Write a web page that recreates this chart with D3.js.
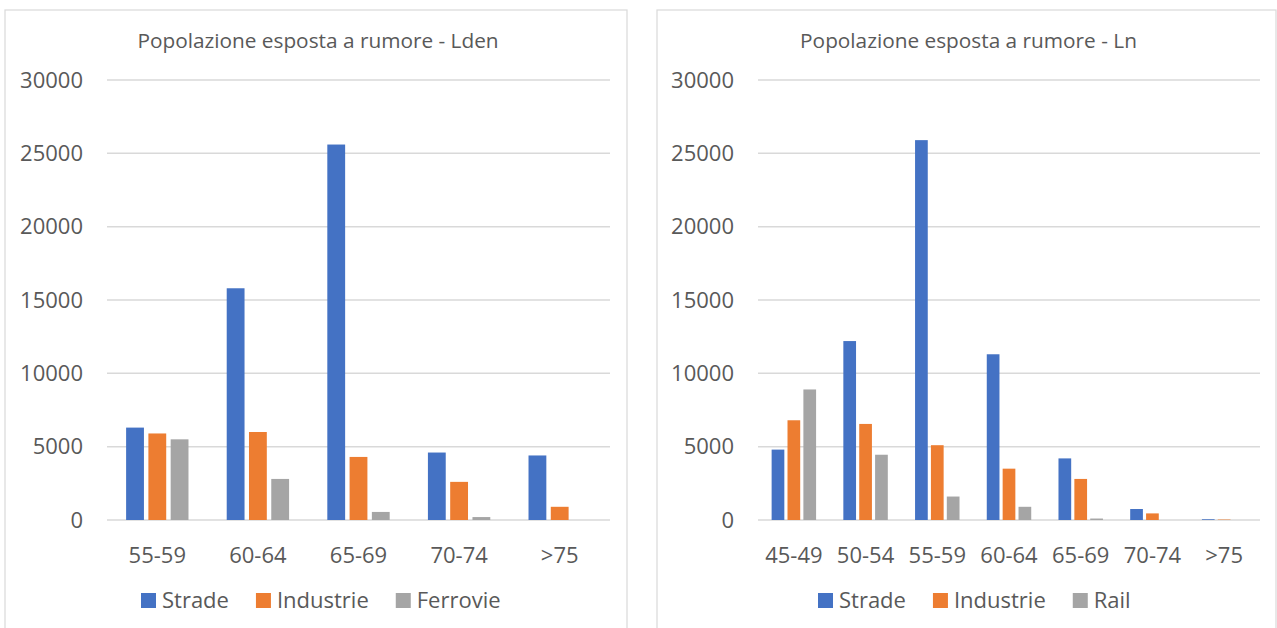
<!DOCTYPE html>
<html><head><meta charset="utf-8">
<script src="https://cdn.jsdelivr.net/npm/d3@7"></script>
<style>
html,body{margin:0;padding:0;background:#fff;}
svg{display:block;font-family:"Open Sans",sans-serif;}
</style></head>
<body>
<svg id="c" width="1277" height="628"></svg>
<script>
// ---- data ----
const ldenCategories = ["55-59","60-64","65-69","70-74",">75"];
const ldenSeries = ["Strade","Industrie","Ferrovie"];
const ldenStrade    = [6300, 15800, 25600, 4600, 4400];
const ldenIndustrie = [5900, 6000, 4300, 2600, 900];
const ldenFerrovie  = [5500, 2800, 550, 200, 0];

const lnCategories = ["45-49","50-54","55-59","60-64","65-69","70-74",">75"];
const lnSeries = ["Strade","Industrie","Rail"];
const lnStrade    = [4800, 12200, 25900, 11300, 4200, 750, 50];
const lnIndustrie = [6800, 6550, 5100, 3500, 2800, 450, 30];
const lnRail      = [8900, 4450, 1600, 900, 100, 0, 0];

const yTicks = [0, 5000, 10000, 15000, 20000, 25000, 30000];
const colors = ["#4472C4", "#ED7D31", "#A5A5A5"];

const svg = d3.select("#c");

function panel(cfg) {
  const g = svg.append("g");
  g.append("rect").attr("x", cfg.px).attr("y", 10).attr("width", cfg.pw).attr("height", 660)
    .attr("fill", "#fff").attr("stroke", "#D9D9D9").attr("stroke-width", 1.2);

  g.append("text").attr("x", cfg.px + cfg.pw / 2 + 2).attr("y", 48)
    .attr("text-anchor", "middle").attr("font-size", 20.8).attr("fill", "#595959")
    .text(cfg.title);

  const y = d3.scaleLinear().domain([0, 30000]).range([520, 80]);
  const x0 = d3.scaleBand().domain(cfg.categories).range([cfg.x0, cfg.x1]).padding(0);
  const gw = x0.bandwidth() * 0.62;
  const x1 = d3.scaleBand().domain(cfg.series)
    .range([(x0.bandwidth() - gw) / 2, (x0.bandwidth() + gw) / 2])
    .paddingInner(0.2).paddingOuter(0);

  // gridlines
  g.append("g").selectAll("line").data(yTicks).join("line")
    .attr("x1", cfg.x0).attr("x2", cfg.x1)
    .attr("y1", d => y(d)).attr("y2", d => y(d))
    .attr("stroke", "#D9D9D9").attr("stroke-width", 1.5);

  // y axis labels
  const ya = g.append("g").attr("transform", `translate(${cfg.x0 - 24},0)`)
    .call(d3.axisLeft(y).tickValues(yTicks).tickSize(0).tickPadding(0).tickFormat(d3.format("d")));
  ya.select(".domain").remove();
  ya.selectAll("text").attr("font-size", 22).attr("fill", "#595959")
    .attr("font-family", "Open Sans, sans-serif");

  // x axis labels
  const xa = g.append("g").attr("transform", `translate(0,540)`)
    .call(d3.axisBottom(x0).tickSize(0).tickPadding(0));
  xa.select(".domain").remove();
  xa.selectAll("text").attr("font-size", 22).attr("fill", "#595959")
    .attr("font-family", "Open Sans, sans-serif").attr("dy", "0").attr("y", 23);

  // bars
  const rows = cfg.categories.map((c, i) => ({c, vals: cfg.values.map(v => v[i])}));
  g.append("g").selectAll("g").data(rows).join("g")
    .attr("transform", d => `translate(${x0(d.c)},0)`)
    .selectAll("rect").data(d => d.vals.map((v, j) => ({s: cfg.series[j], v, j})))
    .join("rect")
    .attr("x", d => x1(d.s)).attr("width", x1.bandwidth())
    .attr("y", d => y(d.v)).attr("height", d => y(0) - y(d.v))
    .attr("fill", d => colors[d.j]);

  // legend
  const lg = g.append("g").attr("transform", `translate(${cfg.legendX},0)`);
  let off = 0;
  cfg.series.forEach((s, j) => {
    lg.append("rect").attr("x", off).attr("y", 593).attr("width", 15).attr("height", 15)
      .attr("fill", colors[j]);
    const t = lg.append("text").attr("x", off + 21).attr("y", 608)
      .attr("font-size", 22).attr("fill", "#595959").text(s);
    off += 21 + t.node().getComputedTextLength() + 27;
  });
}

panel({px: 5, pw: 622, title: "Popolazione esposta a rumore - Lden",
  categories: ldenCategories, series: ldenSeries,
  values: [ldenStrade, ldenIndustrie, ldenFerrovie],
  x0: 107, x1: 610, legendX: 141});

panel({px: 657, pw: 619, title: "Popolazione esposta a rumore - Ln",
  categories: lnCategories, series: lnSeries,
  values: [lnStrade, lnIndustrie, lnRail],
  x0: 758, x1: 1260, legendX: 818});
</script>
</body></html>
